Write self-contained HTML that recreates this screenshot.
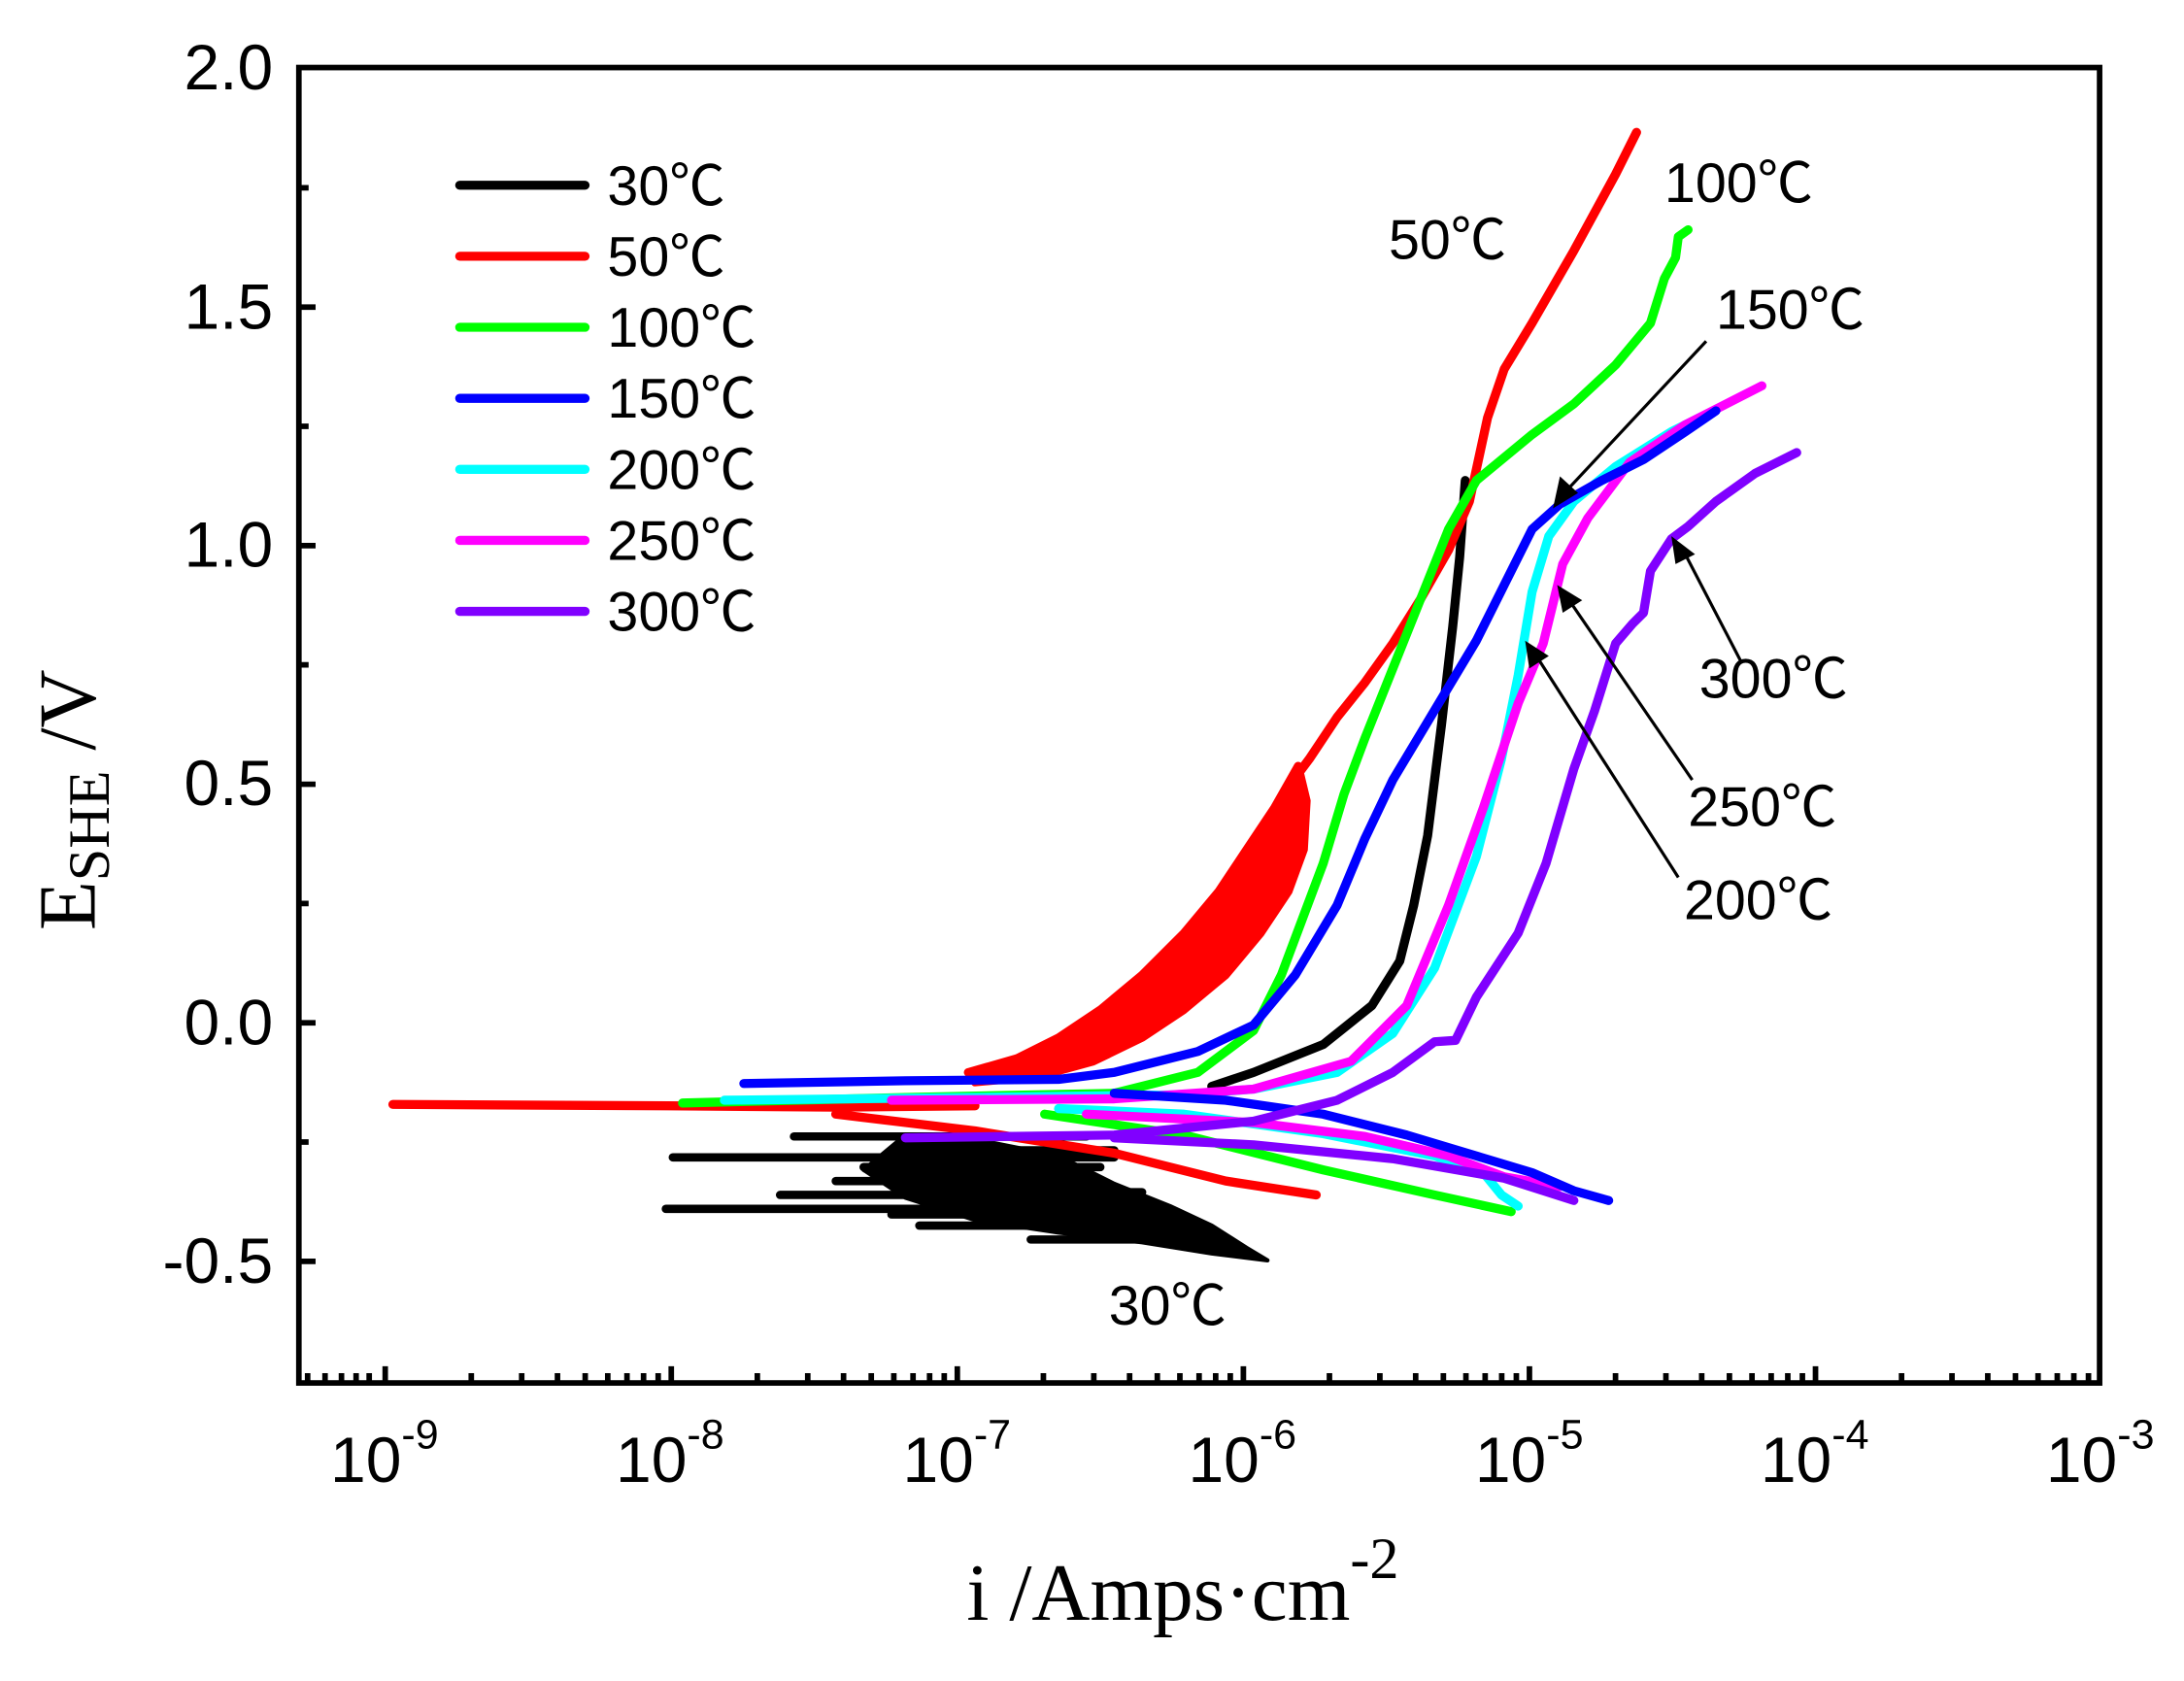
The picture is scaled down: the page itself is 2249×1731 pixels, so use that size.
<!DOCTYPE html>
<html><head><meta charset="utf-8"><style>
html,body{margin:0;padding:0;background:#fff;}
svg{display:block;}
.t{font-family:"Liberation Sans","Noto Sans CJK SC",sans-serif;fill:#000;}
.s{font-family:"Liberation Serif","Noto Serif CJK SC",serif;fill:#000;}
</style></head><body>
<svg width="2249" height="1731" viewBox="0 0 1568 1207" xmlns="http://www.w3.org/2000/svg">
<rect width="1568" height="1207" fill="#fff"/>
<g fill="none" stroke-linecap="round" stroke-linejoin="round">
<!-- 30C black noisy cathodic -->
<g stroke="#000" stroke-width="6">
<path d="M483 831 H800 M478 868 H700 M570 816 H780 M600 848 H760 M660 880 H800 M700 856 H820 M740 890 H860 M560 858 H720 M620 838 H790 M640 872 H770 M680 826 H800"/>
</g>
<path d="M650 815 L700 818 L760 830 L800 850 L840 866 L870 880 L895 896 L910 905 L870 900 L820 892 L760 885 L700 876 L650 860 L620 840 Z" fill="#000" stroke="#000" stroke-width="3"/>
<!-- 30C anodic -->
<path d="M870 780 L900 770 L950 750 L985 722 L1005 690 L1015 650 L1025 600 L1035 520 L1043 450 L1048 400 L1052 345" stroke="#000" stroke-width="6.5"/>
<!-- 50C red -->
<path d="M282 793 L480 794 L600 795 L700 794" stroke="#f00" stroke-width="6.5"/>
<path d="M600 800 L700 812 L800 828 L880 848 L945 858" stroke="#f00" stroke-width="6.5"/>
<path d="M695 770 L730 760 L760 745 L790 725 L820 700 L850 670 L875 640 L895 610 L915 580 L932 550 L938 575 L936 610 L925 640 L905 670 L880 700 L850 725 L820 745 L785 762 L745 773 L700 777 Z" fill="#f00" stroke="#f00" stroke-width="6"/>
<path d="M925 565 L940 545 L960 515 L980 490 L1000 462 L1020 430 L1040 395 L1055 360 L1068 300 L1080 265 L1100 232 L1130 180 L1160 125 L1175 95" stroke="#f00" stroke-width="6.5"/>
<!-- 100C green -->
<path d="M490 792 L650 788 L800 785" stroke="#0f0" stroke-width="6.5"/>
<path d="M800 785 L860 770 L900 740 L920 700 L935 660 L950 620 L965 570 L980 530 L1000 480 L1020 430 L1040 380 L1060 345 L1100 312 L1130 290 L1160 262 L1185 232 L1195 200 L1203 185 L1205 170 L1212 165" stroke="#0f0" stroke-width="6.5"/>
<path d="M750 800 L850 815 L950 840 L1030 858 L1085 870" stroke="#0f0" stroke-width="6.5"/>
<!-- 200C cyan -->
<path d="M520 790 L700 788 L850 786 L900 782 L960 770 L1000 742 L1030 695 L1060 615 L1078 545 L1090 485 L1100 425 L1112 385 L1130 360 L1160 335 L1200 310 L1232 294" stroke="#0ff" stroke-width="6.5"/>
<path d="M760 796 L850 800 L950 814 L1030 830 L1065 842 L1078 858 L1090 866" stroke="#0ff" stroke-width="6.5"/>
<!-- 250C magenta -->
<path d="M640 790 L800 789 L900 782 L970 762 L1010 722 L1040 650 L1065 580 L1090 505 L1108 462 L1122 405 L1140 372 L1170 332 L1210 305 L1265 277" stroke="#f0f" stroke-width="6.5"/>
<path d="M780 800 L900 806 L980 816 L1040 830 L1080 845 L1120 852" stroke="#f0f" stroke-width="6.5"/>
<!-- 150C blue -->
<path d="M534 778 L650 776 L760 775 L800 770 L860 755 L900 736 L930 700 L960 650 L980 602 L1000 560 L1030 510 L1060 460 L1080 420 L1100 380 L1120 362 L1150 345 L1180 330 L1210 310 L1232 295" stroke="#00f" stroke-width="6.5"/>
<path d="M800 785 L880 790 L950 800 L1010 815 L1060 830 L1100 842 L1130 855 L1155 862" stroke="#00f" stroke-width="6.5"/>
<!-- 300C purple -->
<path d="M650 817 L800 815 L900 805 L960 790 L1000 770 L1030 748 L1045 747 L1060 716 L1090 670 L1110 620 L1130 552 L1145 510 L1160 462 L1172 448 L1180 440 L1185 410 L1200 387 L1212 378 L1232 360 L1260 340 L1290 325" stroke="#8000ff" stroke-width="6.5"/>
<path d="M800 817 L900 822 L1000 832 L1080 846 L1130 862" stroke="#8000ff" stroke-width="6.5"/>
</g>
<!-- arrows -->
<g stroke="#000" stroke-width="2.2">
<line x1="1225" y1="245" x2="1125" y2="352"/>
<line x1="1250" y1="475" x2="1210" y2="398"/>
<line x1="1215" y1="560" x2="1128" y2="433"/>
<line x1="1205" y1="630" x2="1105" y2="474"/>
</g>
<g fill="#000">
<polygon points="1115,365 1120,342 1133,354"/>
<polygon points="1200,385 1203,405 1217,398"/>
<polygon points="1118,420 1122,440 1136,431"/>
<polygon points="1095,460 1098,480 1112,471"/>
</g>
<!-- axes -->
<rect x="214.5" y="48.5" width="1293" height="944.5" fill="none" stroke="#000" stroke-width="4"/>
<g stroke="#000" stroke-width="4">
<path d="M214.5 220.5 h12 M214.5 391.8 h12 M214.5 563.1 h12 M214.5 734.4 h12 M214.5 905.7 h12"/>
<path d="M214.5 134.8 h7 M214.5 306.1 h7 M214.5 477.4 h7 M214.5 648.7 h7 M214.5 820 h7"/>
<path d="M276.5 993 v-12 M481.9 993 v-12 M687.3 993 v-12 M892.7 993 v-12 M1098.1 993 v-12 M1303.5 993 v-12"/>
<path d="M220.8 993 v-7 M233.3 993 v-7 M245.1 993 v-7 M255.6 993 v-7 M265 993 v-7 M338.3 993 v-7 M374.5 993 v-7 M400.2 993 v-7 M420.1 993 v-7 M436.3 993 v-7 M450.1 993 v-7 M462 993 v-7 M472.5 993 v-7 M543.7 993 v-7 M579.9 993 v-7 M605.6 993 v-7 M625.5 993 v-7 M641.7 993 v-7 M655.5 993 v-7 M667.4 993 v-7 M677.9 993 v-7 M749.1 993 v-7 M785.3 993 v-7 M811 993 v-7 M830.9 993 v-7 M847.1 993 v-7 M860.9 993 v-7 M872.8 993 v-7 M883.3 993 v-7 M954.5 993 v-7 M990.7 993 v-7 M1016.4 993 v-7 M1036.3 993 v-7 M1052.5 993 v-7 M1066.3 993 v-7 M1078.2 993 v-7 M1088.7 993 v-7 M1159.9 993 v-7 M1196.1 993 v-7 M1221.8 993 v-7 M1241.7 993 v-7 M1257.9 993 v-7 M1271.7 993 v-7 M1283.6 993 v-7 M1294.1 993 v-7 M1365.3 993 v-7 M1401.5 993 v-7 M1427.2 993 v-7 M1447.1 993 v-7 M1463.3 993 v-7 M1477.1 993 v-7 M1489 993 v-7 M1499.5 993 v-7"/>
</g>
<!-- y tick labels -->
<g class="t" font-size="46" text-anchor="end">
<text x="196" y="64">2.0</text>
<text x="196" y="236">1.5</text>
<text x="196" y="407">1.0</text>
<text x="196" y="578">0.5</text>
<text x="196" y="750">0.0</text>
<text x="196" y="921">-0.5</text>
</g>
<!-- x tick labels -->
<g class="t" font-size="46">
<text x="237" y="1064">10<tspan font-size="30" dy="-24">-9</tspan></text>
<text x="442" y="1064">10<tspan font-size="30" dy="-24">-8</tspan></text>
<text x="648" y="1064">10<tspan font-size="30" dy="-24">-7</tspan></text>
<text x="853" y="1064">10<tspan font-size="30" dy="-24">-6</tspan></text>
<text x="1059" y="1064">10<tspan font-size="30" dy="-24">-5</tspan></text>
<text x="1264" y="1064">10<tspan font-size="30" dy="-24">-4</tspan></text>
<text x="1469" y="1064">10<tspan font-size="30" dy="-24">-3</tspan></text>
</g>
<!-- axis titles -->
<text class="s" font-size="58" x="694" y="1163">i /Amps·cm<tspan font-size="42" dy="-30">-2</tspan></text>
<text class="s" font-size="58" transform="translate(68,668) rotate(-90)">E<tspan font-size="42" dy="10">SHE</tspan><tspan dy="-10"> /V</tspan></text>
<!-- legend -->
<g stroke-width="6.5" stroke-linecap="round">
<line x1="330" y1="133" x2="420" y2="133" stroke="#000"/>
<line x1="330" y1="184" x2="420" y2="184" stroke="#f00"/>
<line x1="330" y1="235" x2="420" y2="235" stroke="#0f0"/>
<line x1="330" y1="286" x2="420" y2="286" stroke="#00f"/>
<line x1="330" y1="337" x2="420" y2="337" stroke="#0ff"/>
<line x1="330" y1="388" x2="420" y2="388" stroke="#f0f"/>
<line x1="330" y1="439" x2="420" y2="439" stroke="#8000ff"/>
</g>
<g class="t" font-size="40">
<text x="436" y="147">30℃</text>
<text x="436" y="198">50℃</text>
<text x="436" y="249">100℃</text>
<text x="436" y="300">150℃</text>
<text x="436" y="351">200℃</text>
<text x="436" y="402">250℃</text>
<text x="436" y="453">300℃</text>
</g>
<!-- annotations -->
<g class="t" font-size="40">
<text x="796" y="951">30℃</text>
<text x="997" y="186">50℃</text>
<text x="1195" y="145">100℃</text>
<text x="1232" y="236">150℃</text>
<text x="1220" y="501">300℃</text>
<text x="1212" y="593">250℃</text>
<text x="1209" y="660">200℃</text>
</g>
</svg>
</body></html>
